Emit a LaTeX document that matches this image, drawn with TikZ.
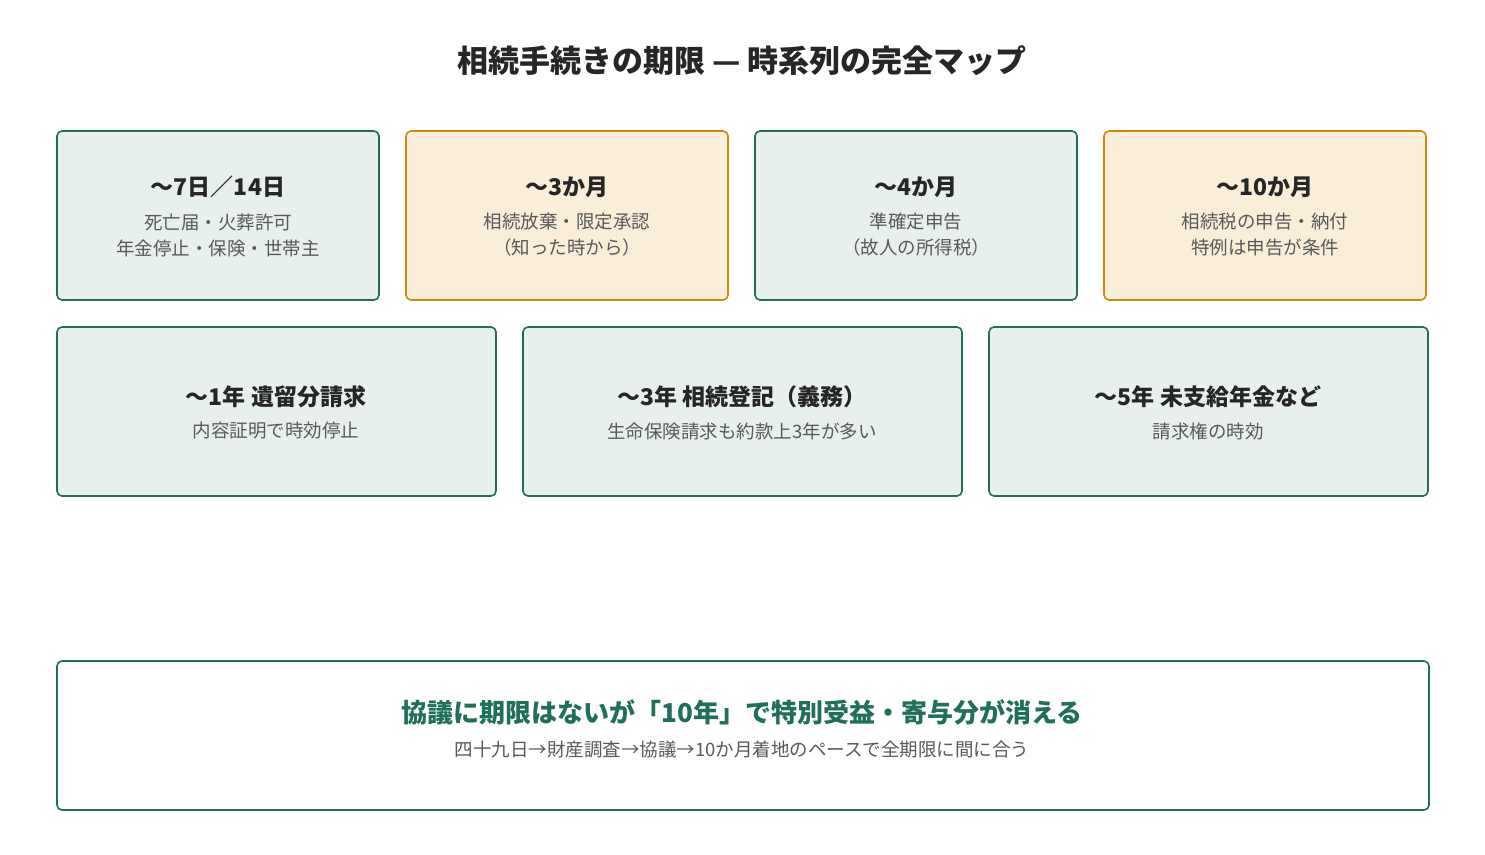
\documentclass[tikz,border=0pt]{standalone}
\usepackage{fontspec}
\setmainfont{Noto Sans CJK JP}
\begin{document}
\begin{tikzpicture}[x=1pt,y=-1pt,
 gbox/.style={draw=green!40!black!80!cyan,line width=1.6pt,rounded corners=5pt,fill=gfill},
 obox/.style={draw=ored,line width=1.6pt,rounded corners=5pt,fill=ofill},
 hd/.style={font=\fontsize{23}{28}\selectfont\bfseries,text=black!85},
 sb/.style={font=\fontsize{18.5}{26}\selectfont,text=black!65,align=center}]
\definecolor{gline}{HTML}{1F6F5A}\definecolor{gfill}{HTML}{E8F0EC}
\definecolor{ored}{HTML}{D08A0E}\definecolor{ofill}{HTML}{FAEED8}
\tikzset{gbox/.append style={draw=gline}}
\useasboundingbox (0,0) rectangle (1485,854);
\node[font=\fontsize{31}{36}\selectfont\bfseries,text=black!85] (title) at (742,61) {相続手続きの期限 — 時系列の完全マップ};
% row 1
\draw[gbox] (57,131) rectangle (379,300); \node[hd] (h1) at (218,187) {〜7日／14日}; \node[sb] (s1) at (218,235) {死亡届・火葬許可\\年金停止・保険・世帯主};
\draw[obox] (406,131) rectangle (728,300); \node[hd] (h2) at (567,187) {〜3か月}; \node[sb] (s2) at (567,235) {相続放棄・限定承認\\（知った時から）};
\draw[gbox] (755,131) rectangle (1077,300); \node[hd] (h3) at (916,187) {〜4か月}; \node[sb] (s3) at (916,235) {準確定申告\\（故人の所得税）};
\draw[obox] (1104,131) rectangle (1426,300); \node[hd] (h4) at (1265,187) {〜10か月}; \node[sb] (s4) at (1265,235) {相続税の申告・納付\\特例は申告が条件};
% row 2
\draw[gbox] (57,327) rectangle (496,496); \node[hd] (h5) at (276,397) {〜1年 遺留分請求}; \node[sb] (s5) at (276,431) {内容証明で時効停止};
\draw[gbox] (523,327) rectangle (962,496); \node[hd] (h6) at (742,397) {〜3年 相続登記（義務）}; \node[sb] (s6) at (742,431) {生命保険請求も約款上3年が多い};
\draw[gbox] (989,327) rectangle (1428,496); \node[hd] (h7) at (1208,397) {〜5年 未支給年金など}; \node[sb] (s7) at (1208,431) {請求権の時効};
% bottom
\draw[gbox,fill=white] (57,661) rectangle (1429,810);
\node[font=\fontsize{26}{30}\selectfont\bfseries,text=gline] (bh) at (742,712) {協議に期限はないが「10年」で特別受益・寄与分が消える};
\node[sb] (bs) at (742,750) {四十九日→財産調査→協議→10か月着地のペースで全期限に間に合う};
\end{tikzpicture}
\end{document}
